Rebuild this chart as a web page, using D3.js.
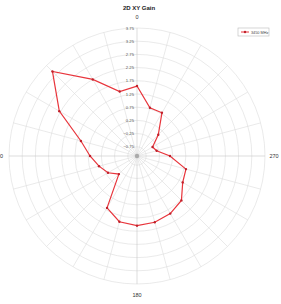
<!DOCTYPE html>
<html>
<head>
<meta charset="utf-8">
<script src="https://cdn.jsdelivr.net/npm/d3@7"></script>
<style>
  body { margin: 0; background: #fff; }
  svg { display: block; font-family: "Liberation Sans", Arial, sans-serif; }
</style>
</head>
<body>
<svg id="chart" width="281" height="304"></svg>
<script>
// angles in degrees (counter-clockwise from top), gain values in dBi
var angles = [0, 15, 30, 45, 60, 75, 90, 105, 120, 135, 150, 165, 180,
              195, 210, 225, 240, 255, 270, 285, 300, 315, 330, 345];
var gain = [1.55, 1.43, 2.25, 3.43, 2.30, 1.10, 0.68, 0.39, 0.17, -0.13, 1.17, 1.48, 1.54,
            1.50, 1.42, 1.28, 0.90, 0.82, 0.15, -0.33, -0.42, 0.04, 0.79, 0.79];
var radialTicks = [-0.75, -0.25, 0.25, 0.75, 1.25, 1.75, 2.25, 2.75, 3.25, 3.75];
var angleLabels = [0, 90, 180, 270];
var seriesName = '3450 MHz';

var svg = d3.select('#chart');
var cx = 137, cy = 156, R = 128;

var r = d3.scaleLinear().domain([-1.1, 3.75]).range([0, R]);
// screen angle: 0 at top, going counter-clockwise
function px(a, v) { var t = a * Math.PI / 180; return cx - Math.sin(t) * r(v); }
function py(a, v) { var t = a * Math.PI / 180; return cy - Math.cos(t) * r(v); }

var grid = svg.append('g');

// rings
grid.selectAll('circle.ring')
  .data(radialTicks)
  .enter().append('circle')
  .attr('cx', cx).attr('cy', cy)
  .attr('r', function(d) { return r(d); })
  .attr('fill', 'none')
  .attr('stroke', '#dcdcdc')
  .attr('stroke-width', 0.6);

// spokes
grid.selectAll('line.spoke')
  .data(d3.range(0, 360, 15))
  .enter().append('line')
  .attr('x1', cx).attr('y1', cy)
  .attr('x2', function(d) { return px(d, 3.75); })
  .attr('y2', function(d) { return py(d, 3.75); })
  .attr('stroke', function(d) { return d % 90 === 0 ? '#c8c8c8' : '#dcdcdc'; })
  .attr('stroke-width', 0.6);

grid.append('circle')
  .attr('cx', cx).attr('cy', cy).attr('r', 2.2)
  .attr('fill', '#aaa');

// radial tick labels
svg.selectAll('text.rt')
  .data(radialTicks)
  .enter().append('text')
  .attr('x', cx - 3)
  .attr('y', function(d) { return cy - r(d) + 1.6; })
  .attr('text-anchor', 'end')
  .attr('font-size', 4.2)
  .attr('fill', '#555')
  .text(function(d) { return d3.format('.2f')(d); });

// angle labels
svg.selectAll('text.al')
  .data(angleLabels)
  .enter().append('text')
  .attr('x', function(d) { return px(d, 3.75) - Math.sin(d * Math.PI / 180) * 9; })
  .attr('y', function(d) { return py(d, 3.75) - Math.cos(d * Math.PI / 180) * 11 + 2; })
  .attr('text-anchor', 'middle')
  .attr('font-size', 5.5)
  .attr('fill', '#333')
  .text(function(d) { return d; });

// data
var pts = angles.map(function(a, i) { return [px(a, gain[i]), py(a, gain[i])]; });

svg.append('path')
  .attr('d', d3.line().curve(d3.curveLinearClosed)(pts))
  .attr('fill', 'none')
  .attr('stroke', '#e8353c')
  .attr('stroke-width', 1.2);

svg.selectAll('circle.pt')
  .data(pts)
  .enter().append('circle')
  .attr('cx', function(d) { return d[0]; })
  .attr('cy', function(d) { return d[1]; })
  .attr('r', 1.2)
  .attr('fill', '#c0202a');

// title
svg.append('text')
  .attr('x', 139).attr('y', 10)
  .attr('text-anchor', 'middle')
  .attr('font-size', 6)
  .attr('font-weight', 'bold')
  .attr('fill', '#222')
  .text('2D XY Gain');

// legend
var lg = svg.append('g').attr('transform', 'translate(238,28)');
lg.append('rect')
  .attr('width', 31).attr('height', 8)
  .attr('fill', '#fff')
  .attr('stroke', '#bbb')
  .attr('stroke-width', 0.6);
lg.append('line')
  .attr('x1', 3).attr('x2', 11).attr('y1', 4).attr('y2', 4)
  .attr('stroke', '#e8353c').attr('stroke-width', 1);
lg.append('circle').attr('cx', 7).attr('cy', 4).attr('r', 1.2).attr('fill', '#c0202a');
lg.append('text')
  .attr('x', 13).attr('y', 5.5)
  .attr('font-size', 3.8)
  .attr('fill', '#444')
  .text(seriesName);
</script>
</body>
</html>
